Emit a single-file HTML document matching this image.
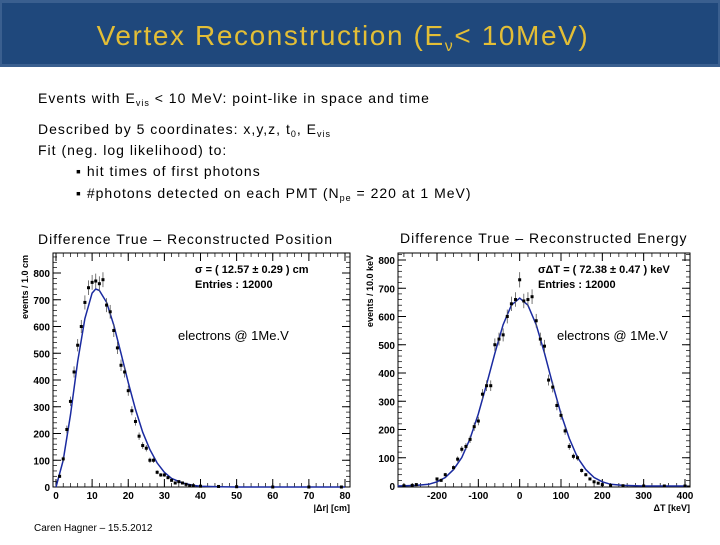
<!DOCTYPE html>
<html><head><meta charset="utf-8"><style>
body{margin:0;width:720px;height:540px;background:#fff;overflow:hidden;font-family:"Liberation Sans",sans-serif}
</style></head><body>
<svg width="720" height="540" xmlns="http://www.w3.org/2000/svg" font-family="Liberation Sans, sans-serif">
<rect x="0" y="0" width="720" height="67" fill="#3a5f8f"/>
<rect x="2" y="3" width="716" height="61" fill="#1f487c"/>
<text x="343" y="45" text-anchor="middle" font-size="28" letter-spacing="1.6" fill="#e3be36">Vertex Reconstruction (E<tspan font-size="16" dy="6">ν</tspan><tspan dy="-6">&lt; 10MeV)</tspan></text>
<g font-size="14" letter-spacing="1" fill="#000">
<text x="38" y="103">Events with E<tspan font-size="9" dy="3">vis</tspan><tspan dy="-3"> &lt; 10 MeV:  point-like in space and time</tspan></text>
<text x="38" y="134">Described by 5 coordinates: x,y,z, t<tspan font-size="9" dy="3">0</tspan><tspan dy="-3">, E</tspan><tspan font-size="9" dy="3">vis</tspan></text>
<text x="38" y="155">Fit (neg. log likelihood)  to:</text>
<text x="76" y="176">▪   hit times of first photons</text>
<text x="76" y="198">▪  #photons detected on each PMT (N<tspan font-size="9" dy="3">pe</tspan><tspan dy="-3"> = 220 at 1 MeV)</tspan></text>
<text x="38" y="244">Difference True – Reconstructed Position</text>
<text x="400" y="243">Difference True – Reconstructed Energy</text>
</g>
<text x="34" y="531" font-size="10">Caren Hagner – 15.5.2012</text>
<g id="left"></g><g id="right"></g>
</svg>
<script>
const posX=[1,2,3,4,5,6,7,8,9,10,11,12,13,14,15,16,17,18,19,20,21,22,23,24,25,26,27,28,29,30,31,32,33,34,35,36,37,38,40,45,50,60,70,79];
const posY=[40,105,215,320,430,530,600,690,745,765,770,760,775,680,655,585,520,455,430,360,285,245,190,155,145,100,100,55,45,45,35,25,15,20,15,10,5,5,3,2,1,0,0,0];
const posFitX=[0,2,4,6,8,10,11,12,14,16,18,20,22,24,26,28,30,32,35,38,40,45,50,80];
const posFitY=[0,100,270,470,630,725,740,735,690,605,500,390,290,205,140,90,55,32,15,6,3,1,0,0];
const posXTicks=[0,10,20,30,40,50,60,70,80];
const posYTicks=[0,100,200,300,400,500,600,700,800];
const enX=[-280,-260,-250,-200,-190,-180,-160,-150,-140,-130,-120,-110,-100,-90,-80,-70,-60,-50,-40,-30,-20,-10,0,10,20,30,40,50,60,70,80,90,100,110,120,130,140,150,160,170,180,190,200,220,250,300,350,400];
const enY=[1,2,5,25,20,40,65,95,130,140,165,210,230,325,355,355,500,520,535,600,645,660,730,655,660,670,585,520,495,375,350,285,250,195,140,105,100,55,40,25,15,10,5,2,1,0,0,0];
const enFitX=[-295,-250,-220,-200,-180,-160,-140,-120,-100,-80,-60,-40,-20,0,20,40,60,80,100,120,140,160,180,200,220,250,300,405];
const enFitY=[0,2,6,15,30,58,101,168,255,360,470,571,640,665,640,571,470,360,255,168,101,58,30,15,6,2,0,0];
const enXTicks=[-200,-100,0,100,200,300,400];
const enYTicks=[0,100,200,300,400,500,600,700,800];
const NS='http://www.w3.org/2000/svg';
function mk(p,t,a){const e=document.createElementNS(NS,t);for(const k in a)e.setAttribute(k,a[k]);p.appendChild(e);return e;}
function plot(g,o){
 const sx=v=>o.x0+(v-o.xmin)/(o.xmax-o.xmin)*(o.x1-o.x0);
 const sy=v=>o.y0-(v-o.ymin)/(o.ymax-o.ymin)*(o.y0-o.y1);
 const fr=mk(g,'rect',{x:o.fl,y:o.ft,width:o.fr-o.fl,height:o.fb-o.ft,fill:'none',stroke:'#000','stroke-width':1});
 
 
 const xs=(o.xt[1]-o.xt[0])/5, ys=(o.yt[1]-o.yt[0])/5;
 for(let v=o.xt[0]-5*xs;v<=o.xt[o.xt.length-1]+5*xs;v+=xs){const x=sx(v);if(x<o.fl||x>o.fr)continue;
  mk(g,'line',{x1:x,x2:x,y1:o.fb,y2:o.fb-4,stroke:'#000','stroke-width':0.7});mk(g,'line',{x1:x,x2:x,y1:o.ft,y2:o.ft+4,stroke:'#000','stroke-width':0.7});}
 for(let v=o.yt[0];v<=o.yt[o.yt.length-1]+5*ys;v+=ys){const y=sy(v);if(y<o.ft||y>o.fb)continue;
  mk(g,'line',{x1:o.fl,x2:o.fl+4,y1:y,y2:y,stroke:'#000','stroke-width':0.7});mk(g,'line',{x1:o.fr,x2:o.fr-4,y1:y,y2:y,stroke:'#000','stroke-width':0.7});}
 o.xt.forEach(v=>{const x=sx(v);
  mk(g,'line',{x1:x,x2:x,y1:o.fb,y2:o.fb-8,stroke:'#000'});mk(g,'line',{x1:x,x2:x,y1:o.ft,y2:o.ft+8,stroke:'#000'});
  const t=mk(g,'text',{x:x,y:o.fb+12,'font-size':10,'font-weight':'bold','text-anchor':'middle'});t.textContent=v;
  
  });
 o.yt.forEach(v=>{const y=sy(v);
  mk(g,'line',{x1:o.fl,x2:o.fl+8,y1:y,y2:y,stroke:'#000'});mk(g,'line',{x1:o.fr,x2:o.fr-8,y1:y,y2:y,stroke:'#000'});
  const t=mk(g,'text',{x:o.fl-3,y:y+4,'font-size':10,'font-weight':'bold','text-anchor':'end'});t.textContent=v;
  
  });
 const yl=mk(g,'text',{x:0,y:0,'font-size':9,'font-weight':'bold','text-anchor':'end',transform:`translate(${o.fl-25},${o.ft+2}) rotate(-90)`});yl.textContent=o.ylab;
 
 
 const xl=mk(g,'text',{x:o.fr,y:o.fb+24,'font-size':9,'font-weight':'bold','text-anchor':'end'});xl.textContent=o.xlab;
 
 
 const d=o.fx.map((v,i)=>(i?'L':'M')+sx(v).toFixed(1)+','+sy(o.fy[i]).toFixed(1)).join('');
 const fit=mk(g,'path',{d:d,fill:'none',stroke:'#1a2aa0','stroke-width':1.5});
 
 
 o.px.forEach((v,i)=>{const x=sx(v),y=sy(o.py[i]),e=Math.sqrt(Math.max(o.py[i],1))*(o.y0-o.y1)/(o.ymax-o.ymin);
  mk(g,'line',{x1:x,x2:x,y1:y-e,y2:y+e,stroke:'#555','stroke-width':0.8});
  const c=mk(g,'rect',{x:x-1.5,y:y-1.5,width:3,height:3,fill:'#000'});
  
  });
 const s1=mk(g,'text',{x:o.sx,y:o.ft+20,'font-size':11,'font-weight':'bold'});s1.textContent=o.stat;
 
 
 const s2=mk(g,'text',{x:o.sx,y:o.ft+35,'font-size':11,'font-weight':'bold'});s2.textContent='Entries : 12000';
 
 
 const an=mk(g,'text',{x:o.ax,y:340,'font-size':13});an.textContent='electrons @ 1Me.V';
 
 
}
plot(document.getElementById('left'),{name:'position-plot',fl:53,fr:350,ft:253,fb:487,x0:56,x1:345,xmin:0,xmax:80,y0:487,y1:273,ymin:0,ymax:800,
 xt:posXTicks,yt:posYTicks,fx:posFitX,fy:posFitY,px:posX,py:posY,ylab:'events / 1.0 cm',xlab:'|Δr| [cm]',stat:'σ = ( 12.57 ± 0.29 ) cm',sx:195,ax:178});
plot(document.getElementById('right'),{name:'energy-plot',fl:398,fr:690,ft:253,fb:487,x0:437,x1:685,xmin:-200,xmax:400,y0:486,y1:260,ymin:0,ymax:800,
 xt:enXTicks,yt:enYTicks,fx:enFitX,fy:enFitY,px:enX,py:enY,ylab:'events / 10.0 keV',xlab:'ΔT [keV]',stat:'σΔT = ( 72.38 ± 0.47 ) keV',sx:538,ax:557});
document.getElementById('left');
document.getElementById('left');
document.getElementById('right');
document.getElementById('right');
</script>
</body></html>
